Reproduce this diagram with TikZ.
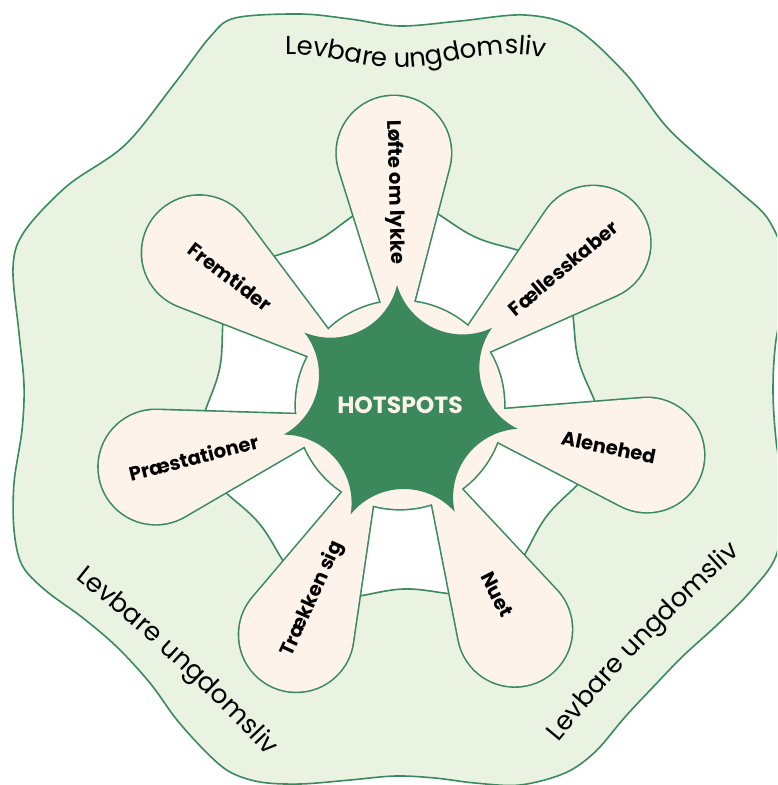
\documentclass[tikz,border=0pt]{standalone}
\usepackage{fontspec}
\setmainfont{Poppins}
\usetikzlibrary{calc}
\definecolor{blobfill}{HTML}{EAF3E1}
\definecolor{edgegreen}{HTML}{3A8A5F}
\definecolor{cream}{HTML}{FDF3EA}
\definecolor{stargreen}{HTML}{3A885C}
\newcommand{\levfont}{\fontsize{26}{30}\selectfont}
% measure glyph widths outside the picture
\newcommand{\measurechars}{%
  \foreach \chr in {L,e,v,b,a,r,u,n,g,d,o,m,s,l,i}{%
    \sbox0{\levfont\chr}\expandafter\xdef\csname cw\chr\endcsname{\the\wd0}}%
  \sbox0{\levfont\ }\xdef\cwSP{\the\wd0}}
% place characters one by one along a path whose direction is a function of arc length \sarc
\newcommand{\curvetext}[5]{%
  \xdef\cx{#2}\xdef\cy{#3}\xdef\cs{0}%
  \foreach \ch [count=\i] in {#5}{%
    \pgfmathsetmacro\w{\csname cw\ch\endcsname}%
    \pgfmathsetmacro\sarc{\cs+0.5*\w}%
    \pgfmathsetmacro\ang{#4}%
    \pgfmathsetmacro\px{\cx+0.5*\w*cos(\ang)}%
    \pgfmathsetmacro\py{\cy+0.5*\w*sin(\ang)}%
    \ifnum\strcmp{\ch}{SP}=0\else
      \node[levchar,rotate=\ang,anchor=base] (#1\i) at (\px,\py) {\ch};%
    \fi
    \pgfmathsetmacro\nx{\cx+\w*cos(\ang)}%
    \pgfmathsetmacro\ny{\cy+\w*sin(\ang)}%
    \pgfmathsetmacro\ns{\cs+\w}%
    \xdef\cx{\nx}\xdef\cy{\ny}\xdef\cs{\ns}%
  }}
\begin{document}
\measurechars
\begin{tikzpicture}[x=1pt,y=1pt,
  outline/.style={draw=edgegreen,line width=1.6pt},
  petalstroke/.style={draw=edgegreen,line width=3.2pt},
  petallabel/.style={font=\fontsize{19.5}{22}\selectfont\bfseries,inner sep=0pt},
  levchar/.style={font=\levfont,inner sep=0pt,text=black}]
\useasboundingbox (0,-785) rectangle (777,0);
\begin{scope}
\clip (0,-785) rectangle (777,0);
\coordinate (C) at (400,-405);

% outer wavy region
\path[fill=blobfill,outline] plot[smooth cycle,tension=0.55] coordinates {
 (235,-18) (300,-14) (350,-19) (400,-26) (460,-21) (525,-15) (575,-28) (625,-73)
 (665,-125) (700,-158) (740,-192) (770,-222) (788,-275) (776,-340) (773,-390)
 (776,-440) (784,-500) (776,-556) (750,-592) (717,-625) (683,-656) (655,-685)
 (625,-717) (595,-752) (565,-773) (520,-785) (475,-783) (435,-778) (395,-776)
 (350,-780) (300,-784) (260,-782) (230,-772) (207,-753) (177,-720) (150,-683)
 (117,-647) (83,-618) (45,-590) (22,-565) (14,-530) (14,-483) (22,-430)
 (24,-385) (19,-333) (13,-268) (24,-232) (67,-186) (125,-145) (175,-83) (210,-37)};

% white inner region
\begin{scope}[shift={(C)}]
\path[fill=white,outline] plot[domain=0:360,samples=181] (\x:{194.5+10.5*cos(7*(\x-91.4))}) -- cycle;
\end{scope}

% petals + centre disk : outline pass
\foreach \a in {91.4,39.97,-11.46,-62.89,-114.31,-165.74,142.83}{
  \begin{scope}[shift={(C)},rotate=\a]
    \path[petalstroke] (45,0) -- (236.3,-54.8) arc[start angle=-106,end angle=106,radius=57] -- cycle;
  \end{scope}}
\path[petalstroke] (C) circle[radius=104];
% fill pass
\foreach \a in {91.4,39.97,-11.46,-62.89,-114.31,-165.74,142.83}{
  \begin{scope}[shift={(C)},rotate=\a]
    \fill[cream] (45,0) -- (236.3,-54.8) arc[start angle=-106,end angle=106,radius=57] -- cycle;
  \end{scope}}
\fill[cream] (C) circle[radius=104];

% star
\fill[stargreen] ($(C)+(91.4:120)$)
  \foreach \k [evaluate=\k as \sa using 91.4-51.4286*\k+104.62,
               evaluate=\k as \ea using 91.4-51.4286*\k+203.96] in {0,...,6}{
    arc[start angle=\sa,end angle=\ea,radius=68.3] } -- cycle;
\end{scope}

\node[font=\fontsize{23.5}{26}\selectfont\bfseries,text=cream] (hot) at (C) {HOTSPOTS};

% petal labels
\node[petallabel,rotate=-88.6] (l1) at ($(C)+(91.4:213)$) {Løfte om lykke};
\node[petallabel,rotate=40]    (l2) at ($(C)+(39.97:213)$) {Fællesskaber};
\node[petallabel,rotate=-11.5] (l3) at ($(C)+(-11.46:213)$) {Alenehed};
\node[petallabel,rotate=-62.9] (l4) at ($(C)+(-62.89:213)$) {Nuet};
\node[petallabel,rotate=65.7]  (l5) at ($(C)+(-114.31:213)$) {Trækken sig};
\node[petallabel,rotate=14.3]  (l6) at ($(C)+(-165.74:213)$) {Præstationer};
\node[petallabel,rotate=-37.2] (l7) at ($(C)+(142.83:213)$) {Fremtider};

% curved texts
\curvetext{ta}{285}{-54}{atan(0.2*sin(1.636*(\sarc-115)))}{L,e,v,b,a,r,e,SP,u,n,g,d,o,m,s,l,i,v}
\curvetext{tb}{75}{-578}{-38.5-0.033*\sarc}{L,e,v,b,a,r,e,SP,u,n,g,d,o,m,s,l,i,v}
\curvetext{tc}{558}{-742}{50.5-0.034*\sarc}{L,e,v,b,a,r,e,SP,u,n,g,d,o,m,s,l,i,v}
\end{tikzpicture}
\end{document}
